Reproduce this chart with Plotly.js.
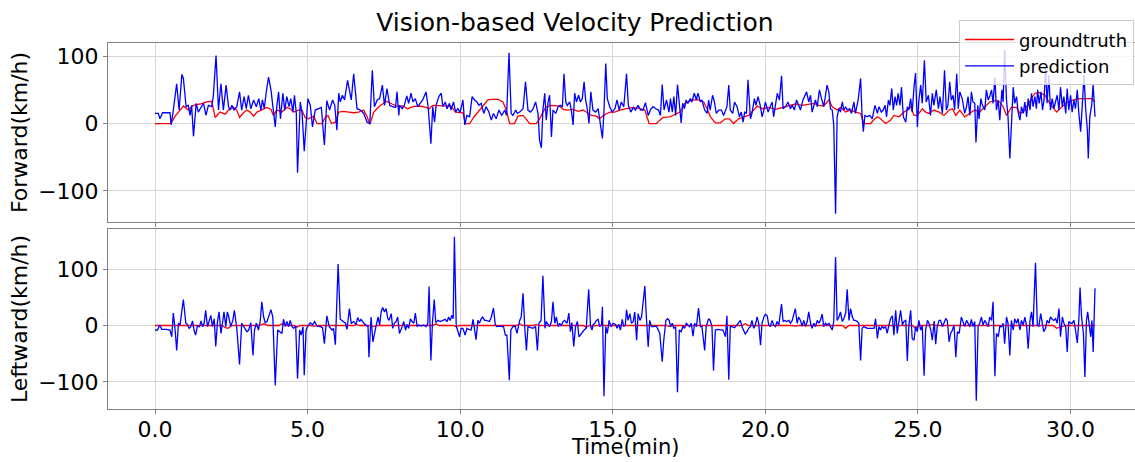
<!DOCTYPE html>
<html>
<head>
<meta charset="utf-8">
<script src="https://cdn.plot.ly/plotly-3.0.1.min.js"></script>
<style>
html,body{margin:0;padding:0;overflow:hidden;background:#fff;}
#chart{width:1142px;height:462px;}
</style>
</head>
<body>
<div id="chart"></div>
<script>
// ---- Data: [time (min), velocity (km/h)] ----
const fwdPrediction = [
[0,15],[0.11,15],[0.16,7],[0.25,16],[0.49,16],[0.53,-2],[0.6,20],[0.71,59],[0.79,20],[0.88,73],[0.93,67],[1.02,25],[1.09,27],[1.15,12],[1.2,27],[1.26,-19],[1.35,30],[1.42,17],[1.48,22],[1.59,30],[1.67,12],[1.75,27],[1.86,25],[1.91,40],[2.0,101],[2.08,20],[2.16,59],[2.24,20],[2.33,57],[2.41,25],[2.46,20],[2.52,27],[2.59,20],[2.68,25],[2.77,47],[2.84,20],[2.92,40],[2.99,22],[3.06,42],[3.14,22],[3.23,35],[3.32,25],[3.4,37],[3.47,20],[3.52,35],[3.58,22],[3.64,45],[3.72,69],[3.8,50],[3.88,17],[3.94,-5],[3.99,25],[4.05,47],[4.11,7],[4.19,45],[4.25,20],[4.32,40],[4.39,25],[4.45,37],[4.52,17],[4.57,42],[4.63,15],[4.67,-73],[4.76,32],[4.82,15],[4.89,-41],[4.96,15],[5.01,37],[5.09,27],[5.16,-5],[5.25,20],[5.36,22],[5.45,24],[5.55,-32],[5.63,34],[5.72,20],[5.82,35],[5.89,27],[5.96,-10],[6.02,45],[6.07,32],[6.14,42],[6.21,35],[6.31,64],[6.38,47],[6.43,35],[6.51,74],[6.62,22],[6.73,20],[6.84,15],[6.95,2],[7.04,0],[7.12,79],[7.19,25],[7.28,35],[7.36,37],[7.45,57],[7.52,27],[7.6,52],[7.69,27],[7.78,25],[7.88,24],[7.93,47],[7.99,12],
[8.01,27],[8.1,22],[8.17,27],[8.25,41],[8.31,30],[8.39,45],[8.45,32],[8.53,37],[8.61,25],[8.69,31],[8.77,35],[8.88,47],[8.95,25],[9.04,-30],[9.1,25],[9.16,2],[9.21,27],[9.3,40],[9.38,45],[9.43,25],[9.51,32],[9.57,22],[9.65,30],[9.7,20],[9.78,32],[9.85,17],[9.92,22],[10.0,17],[10.09,35],[10.15,-2],[10.22,12],[10.31,10],[10.39,40],[10.47,35],[10.55,32],[10.61,27],[10.69,30],[10.77,15],[10.85,25],[10.94,17],[11.02,5],[11.09,15],[11.18,7],[11.27,20],[11.36,12],[11.46,20],[11.52,12],[11.6,105],[11.67,15],[11.73,12],[11.82,20],[11.87,15],[11.95,17],[12.06,22],[12.14,62],[12.22,20],[12.3,17],[12.38,21],[12.47,32],[12.55,15],[12.6,-25],[12.66,-36],[12.71,20],[12.77,45],[12.82,5],[12.88,32],[12.93,42],[12.99,-20],[13.04,20],[13.13,15],[13.21,25],[13.28,27],[13.35,25],[13.4,74],[13.46,32],[13.51,27],[13.59,32],[13.64,20],[13.7,-2],[13.75,45],[13.81,32],[13.88,42],[13.94,32],[14.0,37],[14.06,62],[14.11,35],[14.17,20],[14.22,0],[14.28,47],[14.35,20],[14.44,17],[14.52,22],[14.57,7],[14.66,-22],[14.71,17],[14.77,89],[14.82,37],[14.9,25],[14.98,17],[15.07,22],[15.14,35],[15.21,20],[15.28,32],[15.36,25],[15.45,74],[15.51,27],[15.59,17],[15.67,24],[15.74,20],[15.83,27],[15.91,20],[15.99,20],[16.07,31],[16.16,12],[16.24,21],[16.32,25],[16.41,22],[16.5,20],[16.56,12],[16.62,58],[16.68,20],[16.76,35],[16.84,17],[16.89,37],[16.95,17],[17.0,40],[17.06,12],[17.12,58],[17.2,20],
[17.24,1],[17.29,30],[17.35,22],[17.4,35],[17.46,30],[17.54,37],[17.59,32],[17.67,45],[17.74,35],[17.79,45],[17.87,32],[17.92,35],[18.01,20],[18.09,15],[18.14,35],[18.19,20],[18.27,42],[18.33,32],[18.39,15],[18.47,20],[18.56,20],[18.63,12],[18.74,25],[18.8,57],[18.85,20],[18.93,15],[18.99,32],[19.07,25],[19.15,10],[19.21,17],[19.27,2],[19.32,17],[19.38,15],[19.43,65],[19.51,7],[19.56,15],[19.64,37],[19.69,27],[19.76,40],[19.84,25],[19.89,10],[19.95,20],[20.0,32],[20.09,17],[20.16,27],[20.22,32],[20.27,10],[20.33,32],[20.39,45],[20.46,35],[20.53,71],[20.58,22],[20.66,25],[20.74,32],[20.82,22],[20.88,27],[20.95,20],[21.02,35],[21.09,25],[21.15,20],[21.23,35],[21.29,42],[21.35,47],[21.42,32],[21.48,42],[21.53,17],[21.59,27],[21.64,35],[21.7,25],[21.77,50],[21.84,37],[21.91,25],[21.97,42],[22.02,57],[22.08,47],[22.13,22],[22.19,20],[22.24,-2],[22.3,-134],[22.35,10],[22.41,22],[22.46,17],[22.52,32],[22.57,20],[22.63,25],[22.68,20],[22.76,22],[22.82,15],[22.9,32],[22.95,15],[23.04,35],[23.12,67],[23.17,10],[23.21,-12],[23.26,12],[23.34,10],[23.42,12],[23.5,7],[23.59,27],[23.67,15],[23.72,25],[23.8,17],[23.86,20],[23.92,27],[23.97,10],[24.03,35],[24.08,27],[24.14,52],[24.19,20],[24.25,40],[24.3,27],[24.35,45],[24.41,27],[24.46,54],[24.52,10],[24.6,2],[24.65,25],[24.7,20],[24.76,37],[24.81,17],[24.87,54],[24.92,75],[24.98,-5],[25.03,35],[25.09,57],[25.14,30],[25.21,94],[25.27,32],[25.34,42],[25.41,12],[25.47,45],[25.52,27],[25.6,50],[25.67,22],[25.72,40],[25.8,15],[25.87,79],[25.93,20],[25.98,27],[26.04,62],[26.09,35],[26.15,42],[26.2,20],[26.27,74],[26.32,22],
[26.37,47],[26.45,37],[26.53,15],[26.59,25],[26.64,40],[26.7,12],[26.75,47],[26.8,32],[26.86,30],[26.9,-28],[26.96,27],[27.0,7],[27.06,37],[27.11,27],[27.19,20],[27.24,50],[27.3,35],[27.35,40],[27.41,50],[27.46,30],[27.52,69],[27.57,20],[27.63,35],[27.68,5],[27.75,50],[27.79,32],[27.84,109],[27.9,35],[27.95,10],[28.01,-52],[28.06,10],[28.12,54],[28.17,30],[28.23,40],[28.28,17],[28.34,5],[28.39,25],[28.45,15],[28.5,32],[28.56,10],[28.61,37],[28.67,20],[28.72,45],[28.77,25],[28.83,40],[28.88,22],[28.92,50],[28.97,30],[29.03,47],[29.08,20],[29.13,35],[29.18,84],[29.23,30],[29.29,72],[29.34,20],[29.4,37],[29.45,22],[29.51,35],[29.56,42],[29.62,20],[29.67,54],[29.73,25],[29.78,40],[29.84,15],[29.89,52],[29.94,20],[30.0,42],[30.05,17],[30.11,35],[30.16,22],[30.22,50],[30.27,15],[30.33,-12],[30.38,25],[30.44,72],[30.49,25],[30.55,-10],[30.58,-52],[30.63,10],[30.69,27],[30.74,57],[30.8,10]
];

const fwdGroundtruth = [
[0,0],[0.49,0],[0.55,2],[0.66,11],[0.77,17],[0.93,26],[1.09,20],[1.26,27],[1.48,29],[1.7,32],[1.86,33],[1.97,9],[2.13,17],[2.3,14],[2.41,20],[2.57,24],[2.68,20],[2.77,9],[2.9,16],[3.01,20],[3.12,17],[3.23,11],[3.34,17],[3.5,21],[3.67,24],[3.8,21],[3.88,12],[3.99,20],[4.16,17],[4.32,24],[4.43,22],[4.54,17],[4.7,20],[4.81,20],[4.92,9],[5.03,7],[5.2,11],[5.31,0],[5.47,0],[5.58,9],[5.67,12],[5.78,0],[5.91,2],[6.02,17],[6.18,18],[6.35,17],[6.51,16],[6.67,17],[6.84,20],[6.95,10],[7.04,-1],[7.17,17],[7.33,25],[7.49,30],[7.6,33],[7.77,29],[7.93,26],
[8.12,26],[8.28,22],[8.45,25],[8.66,26],[8.88,24],[8.99,22],[9.1,27],[9.32,27],[9.54,27],[9.7,26],[9.85,17],[9.98,17],[10.09,16],[10.17,0],[10.31,0],[10.44,9],[10.58,17],[10.74,27],[10.91,35],[11.02,36],[11.24,36],[11.4,32],[11.51,20],[11.62,0],[11.78,0],[11.89,11],[12.06,12],[12.19,5],[12.27,0],[12.49,0],[12.6,7],[12.71,17],[12.82,25],[12.99,27],[13.1,27],[13.26,26],[13.37,21],[13.53,20],[13.7,21],[13.86,18],[14.03,20],[14.19,15],[14.3,12],[14.46,11],[14.57,7],[14.68,12],[14.9,17],[15.06,17],[15.23,20],[15.45,22],[15.67,24],[15.89,22],[16.05,20],[16.19,0],[16.43,0],[16.54,5],[16.65,9],[16.87,10],[17.03,14],[17.2,17],
[17.37,30],[17.59,35],[17.81,35],[17.98,32],[18.09,22],[18.2,10],[18.36,1],[18.52,1],[18.69,7],[18.82,7],[18.96,0],[19.12,7],[19.29,10],[19.45,12],[19.62,20],[19.73,26],[19.89,22],[20.11,24],[20.33,21],[20.55,24],[20.77,27],[20.98,29],[21.2,27],[21.42,29],[21.59,30],[21.75,27],[21.91,26],[22.08,35],[22.19,25],[22.35,20],[22.46,24],[22.63,17],[22.79,20],[22.95,17],[23.12,15],[23.23,0],[23.45,0],[23.56,6],[23.67,10],[23.77,7],[23.94,0],[24.1,5],[24.21,12],[24.38,10],[24.54,17],[24.65,20],[24.76,25],[24.87,12],[24.98,12],[25.14,22],[25.25,17],[25.36,15],[25.52,20],[25.69,17],[25.85,12],[26.02,20],[26.13,22],[26.24,12],
[26.37,20],[26.53,10],[26.7,15],[26.86,20],[27.02,17],[27.19,25],[27.35,32],[27.52,34],[27.68,32],[27.79,25],[27.9,12],[28.06,24],[28.23,24],[28.34,15],[28.45,17],[28.56,25],[28.72,37],[28.83,45],[28.99,46],[29.16,42],[29.32,30],[29.54,17],[29.7,24],[29.87,31],[30.09,35],[30.31,37],[30.52,37],[30.69,37],[30.8,32]
];

const leftPrediction = [
[0,-8],[0.08,-8],[0.16,1],[0.22,-7],[0.38,-7],[0.49,-8],[0.55,-20],[0.6,22],[0.66,-8],[0.71,-44],[0.77,4],[0.82,1],[0.93,46],[1.01,4],[1.06,2],[1.12,-5],[1.17,-2],[1.23,8],[1.28,-8],[1.33,-17],[1.39,-1],[1.46,-2],[1.51,8],[1.56,-2],[1.61,4],[1.66,27],[1.72,-2],[1.77,7],[1.83,18],[1.88,-2],[1.94,12],[1.99,-37],[2.05,8],[2.1,24],[2.16,-14],[2.21,4],[2.26,24],[2.32,-2],[2.37,24],[2.42,15],[2.48,-2],[2.55,9],[2.6,27],[2.68,-5],[2.77,-69],[2.84,4],[2.92,-2],[3.01,-11],[3.07,-8],[3.14,5],[3.21,-53],[3.26,-8],[3.32,4],[3.39,-8],[3.45,9],[3.5,42],[3.56,15],[3.61,5],[3.67,7],[3.72,15],[3.8,28],[3.86,15],[3.94,-106],[4.02,-8],[4.08,-10],[4.16,-14],[4.21,11],[4.27,-2],[4.32,7],[4.38,-2],[4.43,9],[4.49,-2],[4.54,-5],[4.61,-1],[4.67,-94],[4.74,-8],[4.79,-17],[4.85,-2],[4.89,-88],[4.95,-8],[5.0,-2],[5.09,5],[5.16,1],[5.23,7],[5.31,-1],[5.42,-2],[5.49,-4],[5.55,-32],[5.63,17],[5.71,-2],[5.8,-8],[5.85,-5],[5.91,-34],[6.0,109],[6.07,11],[6.15,7],[6.24,4],[6.29,-7],[6.37,30],[6.43,4],[6.51,7],[6.59,2],[6.64,14],[6.7,7],[6.75,11],[6.84,4],[6.91,1],[6.98,-2],[7.01,-56],[7.08,15],[7.14,-29],[7.2,-8],[7.25,1],[7.31,15],[7.36,1],[7.41,24],[7.46,32],[7.52,24],[7.57,30],[7.63,12],[7.67,9],[7.74,21],[7.79,-5],[7.84,4],[7.9,7],[7.95,15],[8.01,-14],
[8.1,-2],[8.15,7],[8.21,-8],[8.26,2],[8.31,-5],[8.37,12],[8.42,7],[8.48,4],[8.53,22],[8.59,-2],[8.64,1],[8.72,-1],[8.8,1],[8.88,-2],[8.94,4],[8.98,69],[9.04,-62],[9.09,4],[9.15,46],[9.2,5],[9.27,9],[9.34,7],[9.43,9],[9.51,11],[9.57,7],[9.62,15],[9.67,9],[9.73,18],[9.77,12],[9.81,157],[9.87,-1],[9.92,-8],[9.98,-20],[10.03,-5],[10.09,-5],[10.16,-17],[10.22,-5],[10.28,-7],[10.36,-8],[10.42,11],[10.47,-8],[10.52,-25],[10.58,9],[10.63,4],[10.69,12],[10.74,15],[10.8,9],[10.85,9],[10.96,7],[11.02,15],[11.09,31],[11.15,1],[11.2,-2],[11.29,-1],[11.37,-2],[11.42,-2],[11.48,-17],[11.53,-17],[11.61,-97],[11.66,-8],[11.73,-2],[11.8,-1],[11.86,-14],[11.95,9],[12.0,15],[12.06,57],[12.12,-8],[12.17,-44],[12.22,-2],[12.3,-4],[12.38,-5],[12.47,-2],[12.53,-44],[12.58,4],[12.65,9],[12.71,88],[12.78,-5],[12.82,7],[12.88,1],[12.93,-2],[12.99,7],[13.04,42],[13.1,4],[13.15,15],[13.21,-2],[13.26,4],[13.31,-1],[13.37,7],[13.42,9],[13.5,4],[13.56,22],[13.61,-11],[13.66,5],[13.72,-37],[13.78,-2],[13.84,7],[13.89,-20],[13.97,-14],[14.06,-8],[14.13,-5],[14.21,64],[14.27,-1],[14.32,-8],[14.35,1],[14.41,4],[14.46,9],[14.52,11],[14.57,-2],[14.63,1],[14.66,33],[14.71,-125],[14.77,-2],[14.82,-14],[14.88,9],[14.94,-2],[15.01,4],[15.09,2],[15.14,-5],[15.2,2],[15.25,-8],[15.31,11],[15.36,-2],[15.41,1],[15.45,28],[15.5,9],[15.56,21],[15.61,4],[15.67,7],[15.72,24],[15.78,-26],[15.83,21],[15.89,9],[15.94,15],[15.99,39],[16.05,70],[16.1,15],[16.16,-38],[16.21,9],[16.27,-2],[16.32,-2],[16.43,-1],[16.54,-14],[16.62,-64],[16.67,-26],[16.74,9],[16.79,12],[16.85,9],[16.89,-2],[16.95,4],[17.0,-5],[17.06,-2],[17.12,-118],[17.18,-8],
[17.24,-11],[17.3,-1],[17.35,-5],[17.41,4],[17.46,1],[17.52,-2],[17.57,4],[17.63,-19],[17.68,4],[17.74,-2],[17.81,31],[17.87,-2],[17.92,-2],[18.01,-44],[18.06,-2],[18.14,12],[18.19,9],[18.25,-2],[18.3,-80],[18.36,-8],[18.45,-7],[18.52,-8],[18.61,-8],[18.69,-20],[18.74,17],[18.8,-96],[18.85,-2],[18.91,-2],[18.99,-4],[19.07,1],[19.12,4],[19.18,9],[19.23,-2],[19.29,-8],[19.34,-15],[19.4,-11],[19.45,-5],[19.51,-2],[19.56,9],[19.62,-5],[19.67,1],[19.73,15],[19.78,4],[19.84,-35],[19.89,4],[19.95,15],[20.0,20],[20.06,17],[20.11,1],[20.16,-2],[20.22,9],[20.27,1],[20.33,-2],[20.38,7],[20.44,1],[20.53,38],[20.58,7],[20.63,9],[20.69,7],[20.77,9],[20.82,4],[20.88,9],[20.93,18],[20.98,30],[21.04,4],[21.09,15],[21.15,9],[21.2,-1],[21.26,9],[21.31,-2],[21.37,7],[21.42,24],[21.48,4],[21.53,-5],[21.59,4],[21.64,-2],[21.7,9],[21.75,4],[21.8,9],[21.86,20],[21.91,-2],[21.97,4],[22.02,1],[22.08,4],[22.13,-2],[22.19,-8],[22.24,7],[22.3,121],[22.35,9],[22.41,15],[22.46,24],[22.52,7],[22.57,12],[22.63,22],[22.68,64],[22.74,9],[22.79,30],[22.85,15],[22.9,9],[22.95,9],[23.01,7],[23.06,4],[23.12,-62],[23.17,-5],[23.23,-2],[23.34,-5],[23.45,-5],[23.56,-5],[23.61,12],[23.67,-23],[23.72,-2],[23.77,-8],[23.83,-1],[23.88,-5],[23.94,-2],[23.99,-14],[24.05,1],[24.1,12],[24.16,17],[24.21,-17],[24.27,27],[24.32,-14],[24.38,9],[24.43,27],[24.49,1],[24.54,7],[24.6,9],[24.65,-63],[24.7,-1],[24.76,27],[24.81,-23],[24.87,-26],[24.92,-2],[24.98,-11],[25.03,9],[25.09,-8],[25.14,-1],[25.2,-89],[25.25,-8],[25.31,9],[25.36,4],[25.42,-8],[25.47,-26],[25.53,8],[25.58,-33],[25.63,-2],[25.69,9],[25.74,9],[25.8,-2],[25.85,4],[25.91,12],[25.96,9],[26.02,-29],[26.07,-14],[26.13,-8],[26.18,1],[26.24,-56],[26.29,-11],[26.35,-14],
[26.42,15],[26.48,4],[26.53,-2],[26.59,9],[26.64,4],[26.7,-2],[26.75,11],[26.8,-2],[26.86,7],[26.91,-133],[26.97,-2],[27.02,4],[27.08,15],[27.13,1],[27.19,9],[27.24,4],[27.3,-2],[27.35,15],[27.41,9],[27.46,42],[27.52,-90],[27.57,-14],[27.63,-20],[27.68,-2],[27.74,-2],[27.79,4],[27.84,-32],[27.9,15],[27.95,4],[28.01,-53],[28.06,9],[28.12,-8],[28.17,12],[28.23,4],[28.28,12],[28.34,-8],[28.39,9],[28.45,1],[28.5,15],[28.56,-1],[28.61,-41],[28.67,9],[28.72,24],[28.77,-2],[28.85,111],[28.91,1],[28.96,-2],[29.02,21],[29.07,7],[29.12,-11],[29.18,-5],[29.23,9],[29.29,4],[29.34,15],[29.4,11],[29.45,9],[29.51,12],[29.56,4],[29.62,30],[29.67,-20],[29.73,15],[29.78,4],[29.84,-2],[29.89,-47],[29.94,7],[30.0,4],[30.05,4],[30.11,9],[30.16,-8],[30.22,-31],[30.27,9],[30.31,67],[30.36,15],[30.42,-14],[30.47,-91],[30.52,9],[30.56,24],[30.6,9],[30.66,-20],[30.7,9],[30.74,-47],[30.8,66]
];

const leftGroundtruth = [
[0,0],[2.2,0],[2.3,-4],[2.4,-5],[2.5,0],[3.4,0],[3.56,3],[3.7,0],[4.05,0],[4.16,3],[4.28,0],[4.55,0],[4.65,-3],[4.75,0],[5.1,0],[5.2,-1],[5.3,0],[5.85,0],[5.96,-1],[6.07,0],[6.5,0],[6.6,2],[6.7,0],[7.07,0],[7.17,-2],[7.27,0],[7.5,0],[7.6,1],[7.7,0],[9.1,0],[9.21,3],[9.3,0],[9.77,0],[9.87,-2],[9.97,0],[11.85,0],[11.95,3],[12.05,0],[12.4,0],[12.49,2],[12.6,0],[13.8,0],[13.92,1],[14.03,0],[14.13,-3],[14.24,0],[14.35,-1],[14.45,0],[16.77,0],[16.87,-2],[16.97,0],[19.24,0],[19.34,3],[19.44,0],[20.88,0],[20.98,-1],[21.08,0],[22.53,0],[22.63,-5],[22.73,0],[24.82,0],[24.92,-5],[25.02,0],[25.37,0],[25.47,2],[25.57,0],[29.44,0],[29.54,-5],[29.64,-3],[29.75,-2],[29.85,0],[30.8,0]
];

const xTickValues = [0, 5, 10, 15, 20, 25, 30];
const yTickValues = [-100, 0, 100];
const seriesNames = ['groundtruth', 'prediction'];
const titleText = 'Vision-based Velocity Prediction';
const xTitle = 'Time(min)';
const yTitleTop = 'Forward(km/h)';
const yTitleBottom = 'Leftward(km/h)';

// ---- Styling ----
const FONT = 'DejaVu Sans, sans-serif';
const RED = '#ff0000', BLUE = '#0000ff';
const xs = a => a.map(p => p[0]);
const ys = a => a.map(p => p[1]);

const traces = [
  {x: xs(fwdGroundtruth), y: ys(fwdGroundtruth), name: seriesNames[0], mode: 'lines',
   line: {color: RED, width: 1.3}, xaxis: 'x', yaxis: 'y', legendgroup: 'g'},
  {x: xs(fwdPrediction), y: ys(fwdPrediction), name: seriesNames[1], mode: 'lines',
   line: {color: BLUE, width: 1.3}, xaxis: 'x', yaxis: 'y', legendgroup: 'p'},
  {x: xs(leftGroundtruth), y: ys(leftGroundtruth), name: seriesNames[0], mode: 'lines',
   line: {color: RED, width: 1.3}, xaxis: 'x2', yaxis: 'y2', showlegend: false, legendgroup: 'g'},
  {x: xs(leftPrediction), y: ys(leftPrediction), name: seriesNames[1], mode: 'lines',
   line: {color: BLUE, width: 1.3}, xaxis: 'x2', yaxis: 'y2', showlegend: false, legendgroup: 'p'}
];

const axisCommon = {
  showline: true, linecolor: '#808080', linewidth: 1, mirror: true,
  ticks: 'outside', ticklen: 4, tickcolor: '#808080', tickwidth: 1,
  showgrid: true, gridcolor: '#d6d6d6', gridwidth: 1,
  zeroline: false, tickfont: {family: FONT, size: 22, color: '#000'}
};

const layout = {
  width: 1142, height: 462,
  margin: {l: 108, r: 0, t: 43, b: 53},
  paper_bgcolor: '#fff', plot_bgcolor: '#fff',
  font: {family: FONT, color: '#000'},
  title: {text: titleText, font: {family: FONT, size: 25, color: '#000'},
          xref: 'paper', x: 0.4516, xanchor: 'center',
          yref: 'container', y: 0.952, yanchor: 'middle'},
  showlegend: true,
  legend: {x: 0.9923, xanchor: 'right', y: 1.062, yanchor: 'top',
           bgcolor: 'rgba(255,255,255,0.8)', bordercolor: '#cccccc', borderwidth: 1,
           itemwidth: 49,
           font: {family: FONT, size: 18, color: '#000'}, tracegroupgap: 0},
  // x-axis title placed as a text annotation just below the tick labels (as in the reference)
  annotations: [{
    text: xTitle, xref: 'paper', x: 0.5, xanchor: 'center',
    yref: 'paper', y: -0.1406, yanchor: 'bottom', showarrow: false, borderpad: 0,
    font: {family: FONT, size: 21, color: '#000'}
  }],
  xaxis: Object.assign({}, axisCommon, {
    anchor: 'y', domain: [0, 1], range: [-1.54, 32.34],
    tickvals: xTickValues, showticklabels: false, matches: 'x2'
  }),
  xaxis2: Object.assign({}, axisCommon, {
    anchor: 'y2', domain: [0, 1], range: [-1.54, 32.34],
    tickvals: xTickValues, tickformat: '.1f', ticklabelstandoff: -3
  }),
  yaxis: Object.assign({}, axisCommon, {
    anchor: 'x', domain: [0.511, 1], range: [-146.2, 119.6],
    tickvals: yTickValues,
    title: {text: yTitleTop, font: {family: FONT, size: 22, color: '#000'}, standoff: 4}
  }),
  yaxis2: Object.assign({}, axisCommon, {
    anchor: 'x2', domain: [0, 0.4918], range: [-147.8, 170.8],
    tickvals: yTickValues,
    title: {text: yTitleBottom, font: {family: FONT, size: 22, color: '#000'}, standoff: 4}
  })
};

Plotly.newPlot('chart', traces, layout, {displayModeBar: false, staticPlot: true});
</script>
</body>
</html>
